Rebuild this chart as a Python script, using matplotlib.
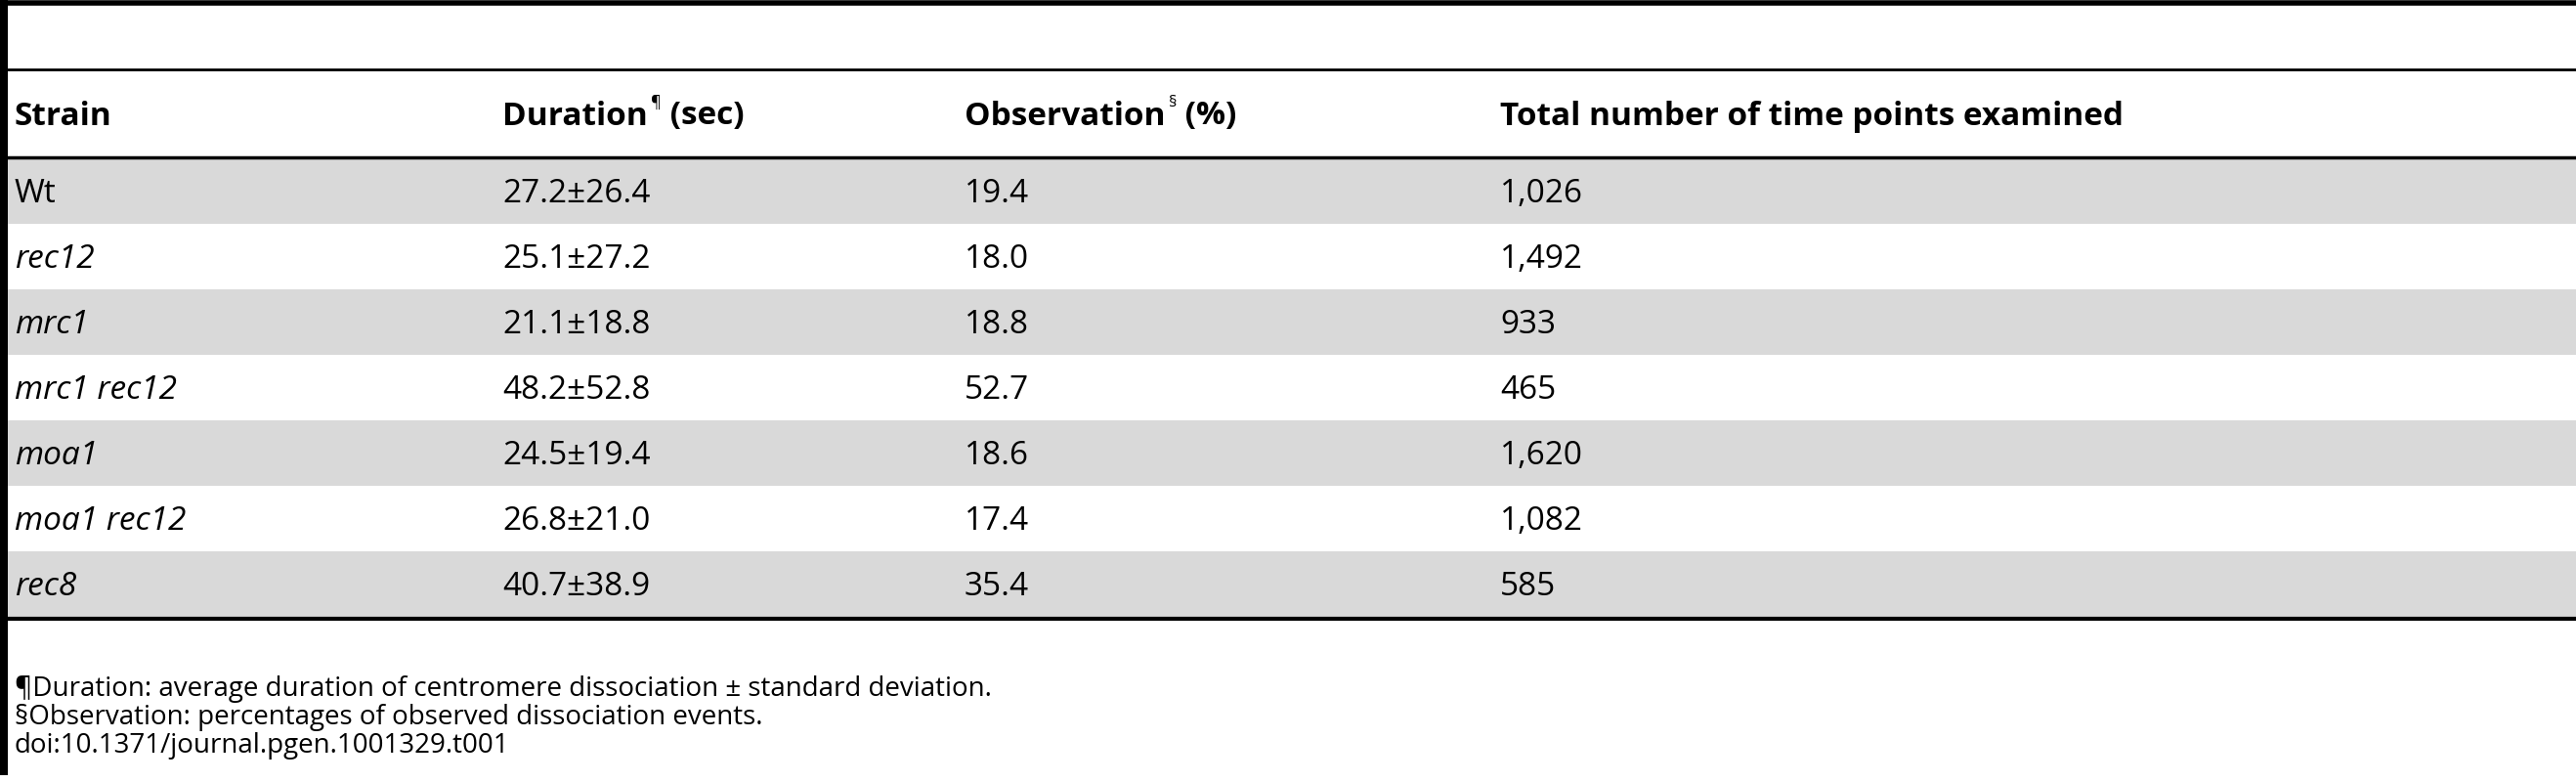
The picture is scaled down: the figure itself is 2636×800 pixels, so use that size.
import matplotlib
matplotlib.use("Agg")
import matplotlib.pyplot as plt
from matplotlib.patches import Rectangle

strains = ["Wt", "rec12", "mrc1", "mrc1 rec12", "moa1", "moa1 rec12", "rec8"]
italic = [False, True, True, True, True, True, True]
duration_mean = ["27.2", "25.1", "21.1", "48.2", "24.5", "26.8", "40.7"]
duration_sd = ["26.4", "27.2", "18.8", "52.8", "19.4", "21.0", "38.9"]
observation = ["19.4", "18.0", "18.8", "52.7", "18.6", "17.4", "35.4"]
total_points = ["1,026", "1,492", "933", "465", "1,620", "1,082", "585"]
headers = ["Strain", "Duration", "Observation", "Total number of time points examined"]
footnotes = ["¶Duration: average duration of centromere dissociation \u00b1 standard deviation.",
             "§Observation: percentages of observed dissociation events.",
             "doi:10.1371/journal.pgen.1001329.t001"]

W, H = 2636, 800
fig = plt.figure(figsize=(W/100, H/100), dpi=100)
ax = fig.add_axes([0, 0, 1, 1])
ax.set_xlim(0, W); ax.set_ylim(H, 0); ax.axis("off")
FONT = "Open Sans"
cols = [15, 514, 987, 1535]
row_top, row_h = 162, 67
fs = 24

for i in range(len(strains)):
    y0 = row_top + i*row_h
    if i % 2 == 0:
        ax.add_patch(Rectangle((0, y0), W, row_h, color="#d9d9d9", lw=0, zorder=0))
    yc = y0 + row_h/2 + 3
    ax.text(cols[0], yc, strains[i], fontsize=fs, family=FONT, va="center",
            style="italic" if italic[i] else "normal")
    ax.text(cols[1], yc, f"{duration_mean[i]}\u00b1{duration_sd[i]}", fontsize=fs, family=FONT, va="center")
    ax.text(cols[2], yc, observation[i], fontsize=fs, family=FONT, va="center")
    ax.text(cols[3], yc, total_points[i], fontsize=fs, family=FONT, va="center")

# rules
ax.plot([0, W], [2.5, 2.5], color="black", lw=4)
ax.plot([0, W], [71, 71], color="black", lw=2)
ax.plot([0, W], [161, 161], color="black", lw=2.5)
bot = row_top + len(strains)*row_h
ax.plot([0, W], [bot+2, bot+2], color="black", lw=3)
ax.add_patch(Rectangle((0, 0), 8, 793, color="black", lw=0, zorder=5))

# headers
hy = 119
fig.canvas.draw()
r = fig.canvas.get_renderer()
ax.text(cols[0], hy, headers[0], fontsize=fs, family=FONT, weight="bold", va="center")
ax.text(cols[3], hy, headers[3], fontsize=fs, family=FONT, weight="bold", va="center")
inv = ax.transData.inverted()
for x, base, sup, tail in [(cols[1], headers[1], "¶", " (sec)"), (cols[2], headers[2], "§", " (%)")]:
    t = ax.text(x, hy, base, fontsize=fs, family=FONT, weight="bold", va="center")
    bb = t.get_window_extent(r)
    x1 = inv.transform((bb.x1, bb.y0))[0]
    s = ax.text(x1 + 3, hy - 14, sup, fontsize=12, family=FONT, va="center")
    bb2 = s.get_window_extent(r)
    x2 = inv.transform((bb2.x1, bb2.y0))[0]
    ax.text(x2, hy, tail, fontsize=fs, family=FONT, weight="bold", va="center")

for k, f in enumerate(footnotes):
    ax.text(15, 705 + 29*k, f, fontsize=20, family=FONT, va="center")

fig.savefig("out.png", dpi=100)
